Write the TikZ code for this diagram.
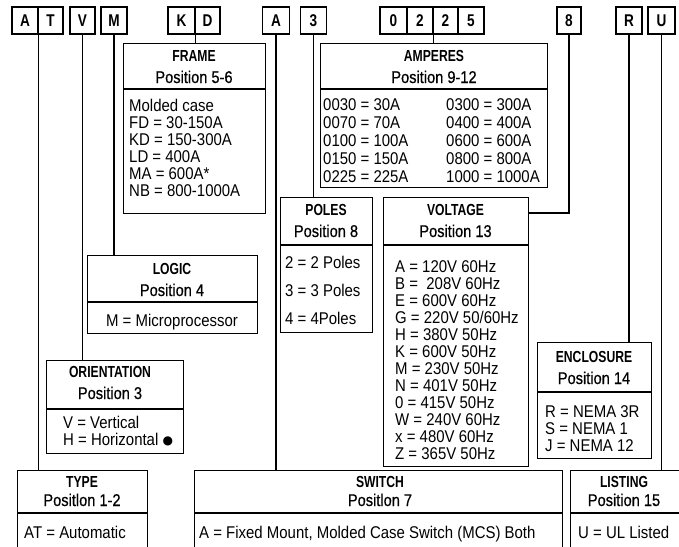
\documentclass[tikz,border=0pt]{standalone}
\usepackage{fontspec}
\setmainfont{Liberation Sans}[FakeStretch=0.88]
\newfontfamily\condfont{Liberation Sans}[FakeStretch=0.76]
\newfontfamily\lettfont{Liberation Sans}[FakeStretch=0.8]
\newfontfamily\posfont{Liberation Sans}[FakeStretch=0.86, FakeBold=0.6]
\newfontfamily\symfont{DejaVu Sans}
\tikzset{
  ln/.style={line width=1.1pt},
  box/.style={draw, line width=1.1pt, rectangle, inner sep=0pt, anchor=north west},
  lett/.style={draw, line width=1.1pt, rectangle, inner sep=0pt, minimum height=27pt,
    font=\lettfont\bfseries\fontsize{17}{17}\selectfont},
  ttl/.style={inner sep=0pt, anchor=base, font=\condfont\bfseries\fontsize{16}{16}\selectfont},
  postxt/.style={inner sep=0pt, anchor=base, font=\posfont\fontsize{17}{17}\selectfont},
  txt/.style={inner sep=0pt, anchor=base west, font=\fontsize{17}{17}\selectfont},
  ctxt/.style={inner sep=0pt, anchor=base, font=\fontsize{17}{17}\selectfont}
}
\begin{document}
\begin{tikzpicture}[x=1pt, y=-1pt]
\fill[white] (0,0) rectangle (679,546);
\useasboundingbox (0,0) rectangle (679,546);

% ---- code letter boxes ----
\node[lett, minimum width=26pt] (lA)  at (25,20.5)    {A};
\node[lett, minimum width=25pt] (lT)  at (50.5,20.5)  {T};
\node[lett, minimum width=25pt] (lV)  at (82.5,20.5)  {V};
\node[lett, minimum width=26pt] (lM)  at (114,20.5)   {M};
\node[lett, minimum width=27pt] (lK)  at (181.5,20.5) {K};
\node[lett, minimum width=25pt] (lD)  at (207.5,20.5) {D};
\node[lett, minimum width=27pt] (lS)  at (276,20.5)   {A};
\node[lett, minimum width=26pt] (lP)  at (313.5,20.5) {3};
\node[lett, minimum width=27pt] (lZa) at (393.5,20.5) {0};
\node[lett, minimum width=26pt] (lZb) at (420,20.5)   {2};
\node[lett, minimum width=25pt] (lZc) at (445.5,20.5) {2};
\node[lett, minimum width=26pt] (lZd) at (471,20.5)   {5};
\node[lett, minimum width=24pt] (lE)  at (569,20.5)   {8};
\node[lett, minimum width=26pt] (lR)  at (629,20.5)   {R};
\node[lett, minimum width=27pt] (lU)  at (661.5,20.5) {U};

% ---- boxes ----
\node[box, minimum width=142pt, minimum height=170pt] (frame) at (123,43) {};
\node[box, minimum width=227pt, minimum height=144pt] (amp)   at (320,43) {};
\node[box, minimum width=92pt,  minimum height=135pt] (poles) at (280,197) {};
\node[box, minimum width=145pt, minimum height=269pt] (volt)  at (383,197) {};
\node[box, minimum width=170pt, minimum height=78pt]  (logic) at (87,255) {};
\node[box, minimum width=137pt, minimum height=93pt]  (orie)  at (46,360) {};
\node[box, minimum width=114pt, minimum height=116pt] (encl)  at (537,342) {};
\node[box, minimum width=130pt, minimum height=100pt] (typ)   at (17,470) {};
\node[box, minimum width=368pt, minimum height=100pt] (swit)  at (194,470) {};
\node[box, minimum width=130pt, minimum height=100pt] (list)  at (570,470) {};

% dividers
\draw[ln] (123,89) -- (265,89);
\draw[ln] (320,89) -- (547,89);
\draw[ln] (280,245) -- (372,245);
\draw[ln] (383,245) -- (528,245);
\draw[ln] (87,302) -- (257,302);
\draw[ln] (46,409) -- (183,409);
\draw[ln] (537,392) -- (651,392);
\draw[ln] (17,513) -- (147,513);
\draw[ln] (194,513) -- (562,513);
\draw[ln] (570,513) -- (679,513);

% ---- titles ----
\node[ttl] (tfr) at (194,61.5) {FRAME};
\node[postxt] (pfr) at (194,83) {Position 5-6};
\node[ttl] (tam) at (434,61.5) {AMPERES};
\node[postxt] (pam) at (434,83) {Position 9-12};
\node[ttl] (tpo) at (326,215.5) {POLES};
\node[postxt] (ppo) at (326,237) {Position 8};
\node[ttl] (tvo) at (455.5,215.5) {VOLTAGE};
\node[postxt] (pvo) at (455.5,237) {Position 13};
\node[ttl] (tlo) at (172,274.5) {LOGIC};
\node[postxt] (plo) at (172,296) {Position 4};
\node[ttl] (tor) at (110,377.5) {ORIENTATION};
\node[postxt] (por) at (110,399) {Position 3};
\node[ttl] (ten) at (594,362.5) {ENCLOSURE};
\node[postxt] (pen) at (594,384) {Position 14};
\node[ttl] (tty) at (82,487.5) {TYPE};
\node[postxt] (pty) at (82,506) {Positlon 1-2};
\node[ttl] (tsw) at (380,487.5) {SWITCH};
\node[postxt] (psw) at (380,506) {Positlon 7};
\node[ttl] (tli) at (624,487.5) {LISTING};
\node[postxt] (pli) at (624,506) {Position 15};

% ---- body texts ----
\foreach \t [count=\i from 0] in {Molded case, FD = 30-150A, KD = 150-300A, LD = 400A, MA = 600A*, NB = 800-1000A}
  \node[txt] (fr\i) at (129,{111+17*\i}) {\t};
\foreach \a/\b [count=\i from 0] in {0030 = 30A/0300 = 300A, 0070 = 70A/0400 = 400A, 0100 = 100A/0600 = 600A, 0150 = 150A/0800 = 800A, 0225 = 225A/1000 = 1000A}
  {\node[txt] (ama\i) at (323,{110+18*\i}) {\a};
   \node[txt] (amb\i) at (446,{110+18*\i}) {\b};}
\foreach \t [count=\i from 0] in {2 = 2 Poles, 3 = 3 Poles, 4 = 4Poles}
  \node[txt] (po\i) at (285,{268+28*\i}) {\t};
\foreach \t [count=\i from 0] in {A = 120V 60Hz, B = \ 208V 60Hz, E = 600V 60Hz, G = 220V 50/60Hz, H = 380V 50Hz, K = 600V 50Hz, M = 230V 50Hz, N = 401V 50Hz, 0 = 415V 50Hz, W = 240V 60Hz, x = 480V 60Hz, Z = 365V 50Hz}
  \node[txt] (vo\i) at (395,{272+17*\i}) {\t};
\node[ctxt] (blo) at (172,326) {M = Microprocessor};
\node[txt] (bor0) at (63,428) {V = Vertical};
\node[txt] (bor1) at (63,445) {H = Horizontal {\symfont\fontsize{12}{12}\selectfont\raisebox{1pt}{●}}};
\foreach \t [count=\i from 0] in {R = NEMA 3R, S = NEMA 1, J = NEMA 12}
  \node[txt] (en\i) at (545,{417+17*\i}) {\t};
\node[txt] (bty) at (24,538) {AT = Automatic};
\node[txt] (bsw) at (199,538) {A = Fixed Mount, Molded Case Switch (MCS) Both};
\node[txt] (bli) at (578,538) {U = UL Listed};

% ---- connectors ----
\coordinate (vb) at (528,213);
\draw[ln] (lA.south east) -- (lA.south east |- typ.north);
\draw[ln] (lV.south) -- (lV.south |- orie.north);
\draw[ln] (lM.south) -- (lM.south |- logic.north);
\draw[ln] (lK.south east) -- (lK.south east |- frame.north);
\draw[ln] (lS.south) -- (lS.south |- swit.north);
\draw[ln] (lP.south) -- (lP.south |- poles.north);
\draw[ln] (lZb.south east) -- (lZb.south east |- amp.north);
\draw[ln] (lE.south) |- (vb);
\draw[ln] (lR.south) -- (lR.south |- encl.north);
\draw[ln] (lU.south) -- (lU.south |- list.north);
\end{tikzpicture}
\end{document}
